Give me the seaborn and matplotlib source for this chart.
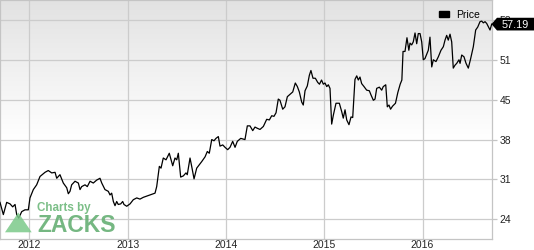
import numpy as np
import pandas as pd
import matplotlib
matplotlib.use("Agg")
import matplotlib.pyplot as plt
import matplotlib.transforms as mtransforms
from matplotlib.patches import Polygon, Patch
import seaborn as sns

# ---- data (decimal year, price) ----
years = [
    2011.702, 2011.736, 2011.770, 2011.804, 2011.831, 2011.855, 2011.872, 2011.892, 2011.923, 2011.956,
    2011.990, 2012.007, 2012.041, 2012.075, 2012.109, 2012.160, 2012.193, 2012.228, 2012.262, 2012.279,
    2012.312, 2012.346, 2012.381, 2012.397, 2012.414, 2012.431, 2012.465, 2012.499, 2012.516, 2012.533,
    2012.567, 2012.590, 2012.618, 2012.651, 2012.686, 2012.719, 2012.737, 2012.770, 2012.804, 2012.821,
    2012.838, 2012.855, 2012.872, 2012.889, 2012.905, 2012.930, 2012.950, 2012.963, 2012.991, 2013.025,
    2013.058, 2013.093, 2013.126, 2013.160, 2013.194, 2013.228, 2013.279, 2013.296, 2013.323, 2013.340,
    2013.363, 2013.391, 2013.424, 2013.459, 2013.482, 2013.500, 2013.516, 2013.540, 2013.567, 2013.594,
    2013.607, 2013.635, 2013.652, 2013.676, 2013.703, 2013.754, 2013.788, 2013.811, 2013.831, 2013.856,
    2013.879, 2013.899, 2013.923, 2013.940, 2013.968, 2013.991, 2014.018, 2014.042, 2014.069, 2014.093,
    2014.116, 2014.151, 2014.171, 2014.194, 2014.218, 2014.245, 2014.273, 2014.296, 2014.319, 2014.347,
    2014.381, 2014.415, 2014.442, 2014.466, 2014.489, 2014.510, 2014.533, 2014.550, 2014.578, 2014.601,
    2014.625, 2014.652, 2014.680, 2014.706, 2014.727, 2014.747, 2014.771, 2014.787, 2014.805, 2014.828,
    2014.849, 2014.865, 2014.886, 2014.910, 2014.934, 2014.952, 2014.973, 2014.991, 2015.008, 2015.026,
    2015.042, 2015.059, 2015.076, 2015.093, 2015.120, 2015.154, 2015.178, 2015.194, 2015.212, 2015.229,
    2015.252, 2015.273, 2015.290, 2015.313, 2015.331, 2015.347, 2015.364, 2015.381, 2015.405, 2015.432,
    2015.459, 2015.476, 2015.500, 2015.517, 2015.534, 2015.561, 2015.585, 2015.601, 2015.626, 2015.642,
    2015.659, 2015.675, 2015.695, 2015.725, 2015.749, 2015.773, 2015.790, 2015.802, 2015.822, 2015.842,
    2015.861, 2015.873, 2015.890, 2015.906, 2015.924, 2015.941, 2015.957, 2015.975, 2015.992, 2016.008,
    2016.025, 2016.059, 2016.076, 2016.094, 2016.110, 2016.137, 2016.161, 2016.188, 2016.212, 2016.229,
    2016.246, 2016.262, 2016.280, 2016.297, 2016.313, 2016.331, 2016.348, 2016.371, 2016.382, 2016.399,
    2016.422, 2016.443, 2016.466, 2016.490, 2016.517, 2016.541, 2016.562, 2016.585, 2016.602, 2016.619,
    2016.636, 2016.653, 2016.687, 2016.704,
]
prices = [
    27.25, 25.2, 27.25, 27.0, 26.5, 26.9, 25.2, 24.6, 25.7, 26.0,
    26.0, 28.0, 29.4, 30.2, 31.6, 32.3, 32.6, 32.2, 32.3, 31.3,
    31.9, 30.5, 29.7, 28.7, 29.1, 30.2, 30.8, 30.5, 29.4, 29.9,
    30.2, 29.9, 30.8, 30.5, 31.0, 31.3, 30.5, 29.4, 29.1, 28.5,
    28.8, 27.4, 26.7, 27.4, 26.9, 27.0, 27.4, 26.9, 26.6, 27.0,
    27.7, 28.0, 27.8, 28.1, 28.3, 28.5, 28.8, 29.9, 33.3, 33.0,
    34.7, 34.4, 35.5, 33.4, 34.7, 34.4, 35.5, 31.5, 31.7, 32.2,
    31.9, 34.7, 33.3, 31.2, 33.0, 34.1, 34.9, 35.8, 35.5, 37.8,
    37.6, 38.0, 38.3, 36.7, 36.9, 36.5, 36.1, 36.5, 37.5, 36.5,
    37.5, 38.0, 37.9, 37.8, 40.1, 40.1, 39.3, 39.9, 39.7, 39.5,
    40.0, 41.2, 41.1, 41.8, 41.7, 42.3, 44.6, 44.4, 42.9, 43.3,
    45.0, 45.4, 45.8, 47.3, 46.7, 45.8, 44.1, 43.6, 46.0, 46.8,
    48.6, 49.4, 48.1, 48.1, 47.4, 47.1, 47.8, 47.1, 47.3, 46.7,
    47.0, 46.4, 40.4, 41.9, 43.9, 43.9, 42.5, 41.4, 42.8, 41.1,
    40.3, 41.6, 41.5, 47.9, 48.5, 47.8, 48.3, 47.2, 46.7, 46.1,
    46.0, 45.3, 44.4, 44.6, 46.4, 46.6, 46.1, 46.7, 47.0, 43.3,
    43.6, 42.9, 43.4, 43.9, 45.7, 47.1, 47.8, 52.6, 52.6, 54.9,
    52.8, 54.0, 53.7, 54.2, 55.7, 53.9, 55.6, 55.6, 54.2, 51.2,
    51.4, 52.8, 55.0, 50.0, 51.2, 50.9, 51.7, 52.8, 53.4, 54.5,
    55.3, 54.5, 55.5, 54.2, 49.8, 50.3, 50.6, 51.2, 50.6, 52.0,
    51.7, 50.6, 49.8, 51.4, 53.4, 56.2, 56.7, 57.6, 57.7, 57.4,
    57.6, 57.3, 56.2, 57.19,
]
year_ticks = [2012, 2013, 2014, 2015, 2016]
year_labels = ["2012", "2013", "2014", "2015", "2016"]
price_ticks = [24.4, 31.1, 37.8, 44.5, 51.2, 57.9]
price_labels = ["24", "31", "38", "45", "51", "58"]
last_label = "57.19"
series_name = "Price"

df = pd.DataFrame({"year": years, "price": prices})

plt.rcParams["font.family"] = ["Liberation Sans", "DejaVu Sans"]

fig = plt.figure(figsize=(5.34, 2.5), dpi=100)
ax = fig.add_axes([0.0, 11 / 250, 492 / 534, 239 / 250])

# gradient background
grad = np.concatenate([np.linspace(0.0, 1.0, 140), np.ones(100)])
grad = grad[:, None]
cmap = matplotlib.colors.LinearSegmentedColormap.from_list("g", ["#e2e2e2", "#ffffff"])
ax.imshow(grad, cmap=cmap, aspect="auto", extent=[0, 1, 0, 1], transform=ax.transAxes,
          zorder=0, interpolation="bilinear")

sns.lineplot(data=df, x="year", y="price", color="black", linewidth=0.9, ax=ax, zorder=3)

ymin, ymax = 21.1, 61.24
ax.set_xlim(2011.702, 2016.707)
ax.set_ylim(ymin, ymax)
ax.set_xticks(year_ticks)
ax.set_xticklabels(year_labels)
ax.set_yticks(price_ticks)
ax.set_yticklabels(price_labels)
ax.yaxis.tick_right()
ax.set_xlabel("")
ax.set_ylabel("")
ax.grid(True, color="#cccccc", linewidth=0.9, zorder=1)
ax.set_axisbelow(True)
for s in ax.spines.values():
    s.set_color("#c4c4c4")
    s.set_linewidth(0.9)
ax.tick_params(axis="y", direction="out", length=3.6, width=0.9, color="#c4c4c4",
               labelsize=7.5, pad=2.0, labelcolor="#222222")
ax.tick_params(axis="x", length=0, labelsize=7.5, pad=1.0, labelcolor="#222222")

# legend
ax.legend(handles=[Patch(facecolor="black", edgecolor="black", label=series_name)],
          loc="upper right", bbox_to_anchor=(0.99, 0.99), frameon=False, fontsize=7.5,
          handlelength=0.9, handleheight=0.45, handletextpad=0.7, borderaxespad=0.3)

# last price label: black box with a left-pointing tip
last = prices[-1]
half = 6.35 * (ymax - ymin) / 239
trans = mtransforms.blended_transform_factory(ax.transAxes, ax.transData)
tag = Polygon([[491.5 / 492, last], [497 / 492, last + half], [545 / 492, last + half],
               [545 / 492, last - half], [497 / 492, last - half]],
              closed=True, transform=trans, facecolor="black", edgecolor="none",
              zorder=10, clip_on=False)
ax.add_patch(tag)
ax.text(501.5 / 492, last, last_label, transform=trans, color="white",
        fontsize=7.8, ha="left", va="center_baseline", zorder=11, clip_on=False)

# watermark
tri = Polygon([[5 / 492, 6.7 / 239], [31.7 / 492, 6.7 / 239], [18.3 / 492, 26.5 / 239]],
              closed=True, transform=ax.transAxes, facecolor="#7cc98a", edgecolor="none",
              alpha=0.85, zorder=4)
ax.add_patch(tri)
ax.text(36.7 / 492, 28 / 239, "Charts by", transform=ax.transAxes, color="#7cbf88",
        fontsize=8.4, fontweight="bold", ha="left", va="baseline", zorder=4)
ax.text(37 / 492, 6.7 / 239, "ZACKS", transform=ax.transAxes, color="#66b074",
        fontsize=16.5, fontweight="bold", ha="left", va="baseline", zorder=4, alpha=0.9)

fig.savefig("out.png", dpi=100)
